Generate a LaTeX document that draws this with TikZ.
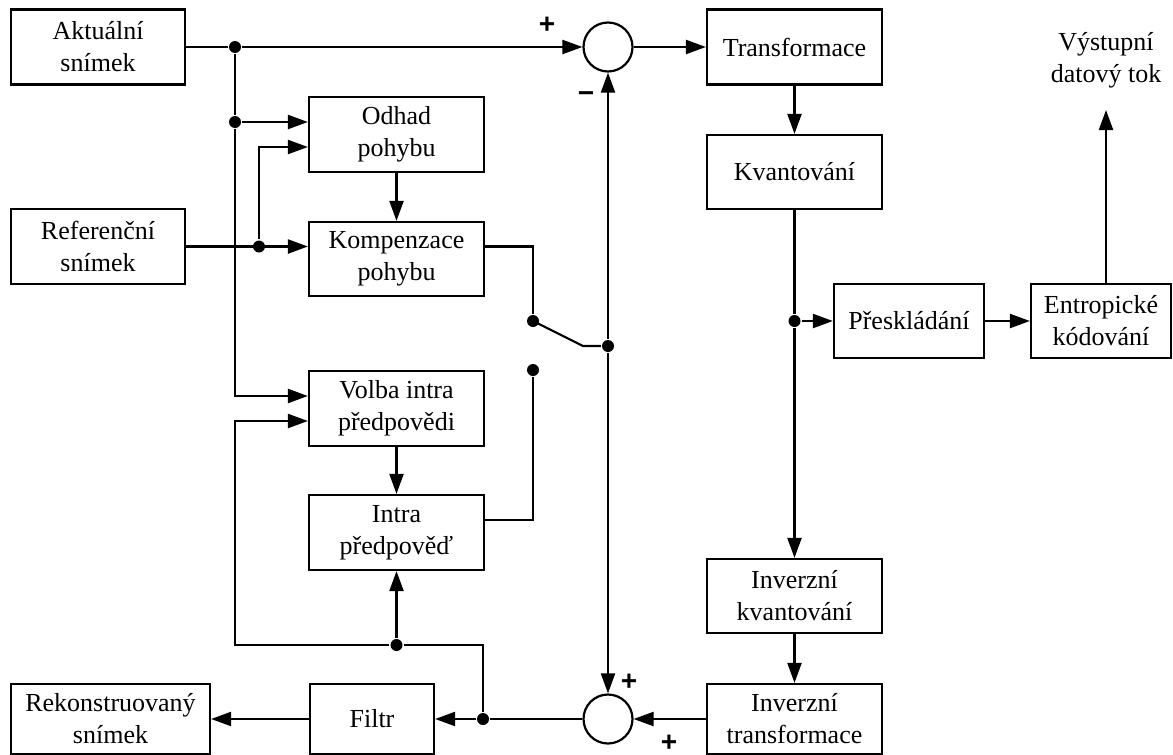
\documentclass[tikz,border=0pt]{standalone}
\usepackage{fontspec}
\setmainfont{Liberation Serif}
\newfontfamily\signfont{Liberation Sans}
\usetikzlibrary{arrows.meta}
\begin{document}
\begin{tikzpicture}[x=1pt,y=-1pt,
  line width=2.2pt,
  blk/.style={draw, rectangle, align=center, inner sep=0pt,
    font=\fontsize{26}{32}\selectfont},
  lbl/.style={align=center, inner sep=0pt, font=\fontsize{26}{32}\selectfont},
  sumnode/.style={draw, circle, minimum size=49pt, inner sep=0pt},
  arr/.style={-{Triangle[length=20pt,width=14pt]}},
  dotnode/.style={circle, fill, inner sep=0pt, minimum size=12pt},
  sign/.style={inner sep=0pt, font=\signfont\bfseries\fontsize{28}{28}\selectfont}
]
\useasboundingbox (0,0) rectangle (1173,755);

% blocks
\node[blk, minimum width=174pt, minimum height=75pt] (akt) at (98,47) {Aktuální\\snímek};
\node[blk, minimum width=174pt, minimum height=75pt] (ref) at (98,246.5) {Referenční\\snímek};
\node[blk, minimum width=175pt, minimum height=75pt] (odhad) at (396.5,134.5) {Odhad\\pohybu};
\node[blk, minimum width=175pt, minimum height=74pt] (komp) at (396.5,259) {Kompenzace\\pohybu};
\node[blk, minimum width=175pt, minimum height=75pt] (volba) at (396.5,408.5) {Volba intra\\předpovědi};
\node[blk, minimum width=175pt, minimum height=75pt] (intra) at (396.5,532.5) {Intra\\předpověď};
\node[blk, minimum width=175pt, minimum height=75pt] (transf) at (794.5,47) {Transformace};
\node[blk, minimum width=175pt, minimum height=74pt] (kvant) at (794.5,172) {Kvantování};
\node[blk, minimum width=175pt, minimum height=74pt] (ik) at (794.5,596) {Inverzní\\kvantování};
\node[blk, minimum width=175pt, minimum height=70pt] (it) at (794.5,719) {Inverzní\\transformace};
\node[blk, minimum width=150pt, minimum height=74pt] (presk) at (909,321) {Přeskládání};
\node[blk, minimum width=140pt, minimum height=74pt] (entr) at (1101,321) {Entropické\\kódování};
\node[blk, minimum width=199pt, minimum height=70pt] (rek) at (110.5,719) {Rekonstruovaný\\snímek};
\node[blk, minimum width=124pt, minimum height=70pt] (filtr) at (372,719) {Filtr};
\node[lbl] (outlbl) at (1106,60) {Výstupní\\datový tok};

% summing points
\node[sumnode] (sum1) at (608,47) {};
\node[sumnode] (sum2) at (608,719) {};

% junctions and switch contacts
\node[dotnode] (j1) at (235,47) {};
\node[dotnode] (j2) at (235,122) {};
\node[dotnode] (j3) at (259,246.5) {};
\node[dotnode] (sw1) at (533,321) {};
\node[dotnode] (sw2) at (533,370) {};
\node[dotnode] (j4) at (608,346) {};
\node[dotnode] (j5) at (794.5,321) {};
\node[dotnode] (j6) at (483,719) {};
\node[dotnode] (j7) at (396.5,645) {};
\coordinate (swk) at (583,346);
\coordinate (fbc) at (235,645);
\coordinate (out) at (1106,110);

% signs
\node[sign] at (547,25) {+};
\node[sign] at (586,97) {−};
\node[sign] at (629,682) {+};
\node[sign] at (669,743) {+};

% forward path
\draw (akt.east) -- (j1);
\draw[arr] (j1) -- (sum1);
\draw (j1) -- (j2);
\draw[arr] (j2) -- (odhad.west |- j2);
\draw[arr] (j2) |- ([yshift=12.5pt]volba.west);
\draw[arr] (ref.east) -- (komp.west |- ref.east);
\draw[arr] (j3) |- ([yshift=-12.5pt]odhad.west);
\draw[arr] (odhad) -- (komp);
\draw[arr] (volba) -- (intra);
\draw[arr] (sum1) -- (transf);
\draw[arr] (transf) -- (kvant);
\draw (kvant) -- (j5);
\draw[arr] (j5) -- (ik);
\draw[arr] (j5) -- (presk);
\draw[arr] (presk) -- (entr);
\draw[arr] (entr.north -| out) -- (out);
\draw[arr] (ik) -- (it);

% prediction switch
\draw ([yshift=12.5pt]komp.east) -| (sw1);
\draw ([yshift=12.5pt]intra.east) -| (sw2);
\draw (sw1.center) -- (swk) -- (j4);
\draw[arr] (j4) -- (sum1);
\draw[arr] (j4) -- (sum2);

% reconstruction loop
\draw[arr] (it.west) -- (sum2);
\draw (sum2) -- (j6);
\draw[arr] (j6) -- (filtr);
\draw[arr] (filtr) -- (rek);
\draw (j6) |- (j7);
\draw[arr] (j7) -- (intra);
\draw[arr] (j7) -- (fbc) |- ([yshift=-12.5pt]volba.west);
\end{tikzpicture}
\end{document}
